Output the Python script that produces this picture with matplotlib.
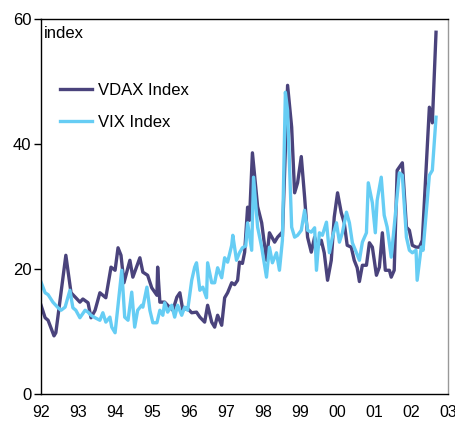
import numpy as np
import matplotlib.pyplot as plt

plt.rcParams['font.family'] = ['Liberation Sans', 'DejaVu Sans']

# years since start of 1992
vdax_t = [0.00, 0.11, 0.19, 0.35, 0.40, 0.67, 0.81, 0.94, 1.05, 1.13, 1.27, 1.35, 1.46, 1.59,
          1.75, 1.89, 2.00, 2.08, 2.16, 2.24, 2.40, 2.48, 2.67, 2.75, 2.88, 2.99, 3.13, 3.15,
          3.21, 3.34, 3.42, 3.56, 3.67, 3.75, 3.83, 3.94, 4.07, 4.20, 4.29, 4.42, 4.50, 4.61,
          4.69, 4.77, 4.88, 4.96, 5.04, 5.15, 5.23, 5.31, 5.36, 5.44, 5.50, 5.58, 5.63, 5.71,
          5.85, 5.96, 6.09, 6.17, 6.31, 6.39, 6.50, 6.52, 6.66, 6.77, 6.85, 6.93, 7.03, 7.12,
          7.20, 7.30, 7.39, 7.47, 7.57, 7.65, 7.74, 7.84, 7.92, 8.01, 8.11, 8.19, 8.27, 8.38,
          8.46, 8.54, 8.60, 8.68, 8.79, 8.87, 8.95, 9.06, 9.14, 9.22, 9.30, 9.41, 9.46, 9.54,
          9.62, 9.76, 9.87, 9.95, 10.03, 10.13, 10.22, 10.30, 10.49, 10.57, 10.67]
vdax = [14.2, 12.2, 11.8, 9.3, 9.8, 22.2, 16.2, 15.4, 14.7, 15.2, 14.6, 12.2, 13.4, 16.2,
        15.4, 20.3, 19.8, 23.4, 22.2, 17.8, 21.4, 18.7, 21.8, 19.5, 19.0, 17.0, 15.8, 20.3,
        14.7, 14.7, 14.2, 13.4, 15.5, 16.2, 13.4, 13.8, 13.0, 13.1, 12.3, 11.5, 14.2, 11.5,
        10.7, 12.6, 11.0, 15.4, 16.2, 17.8, 17.5, 18.2, 21.1, 20.9, 22.7, 29.9, 27.8, 38.6,
        30.0, 27.4, 21.4, 25.8, 24.3, 25.1, 25.8, 25.2, 49.4, 42.7, 32.2, 33.8, 38.0, 31.5,
        25.1, 22.7, 25.1, 23.5, 24.6, 22.6, 18.2, 21.4, 28.3, 32.2, 29.0, 27.4, 23.8, 23.5,
        21.4, 20.2, 18.0, 20.6, 20.6, 24.2, 23.5, 19.0, 20.3, 25.8, 19.8, 19.8, 18.7, 19.8,
        35.8, 37.0, 26.7, 26.2, 23.8, 23.5, 23.5, 24.6, 45.9, 43.4, 57.9]

vix_t = [0.00, 0.11, 0.19, 0.32, 0.46, 0.54, 0.65, 0.78, 0.86, 0.94, 1.05, 1.19, 1.27, 1.35,
         1.46, 1.59, 1.67, 1.75, 1.86, 1.91, 2.00, 2.08, 2.18, 2.26, 2.35, 2.45, 2.53, 2.61,
         2.72, 2.75, 2.86, 2.94, 3.02, 3.13, 3.21, 3.29, 3.34, 3.42, 3.53, 3.61, 3.69, 3.80,
         3.88, 3.96, 4.07, 4.15, 4.20, 4.29, 4.37, 4.47, 4.50, 4.61, 4.69, 4.77, 4.88, 4.96,
         5.04, 5.15, 5.18, 5.28, 5.36, 5.44, 5.53, 5.58, 5.69, 5.74, 5.85, 5.96, 6.09, 6.17,
         6.25, 6.36, 6.44, 6.52, 6.60, 6.66, 6.77, 6.85, 6.93, 7.03, 7.12, 7.20, 7.30, 7.39,
         7.44, 7.52, 7.60, 7.71, 7.79, 7.87, 7.98, 8.06, 8.14, 8.25, 8.33, 8.41, 8.52, 8.60,
         8.68, 8.79, 8.84, 8.95, 9.03, 9.08, 9.19, 9.27, 9.35, 9.46, 9.59, 9.68, 9.76, 9.87,
         9.95, 10.03, 10.13, 10.16, 10.27, 10.32, 10.49, 10.57, 10.67]
vix = [17.9, 16.2, 15.9, 14.7, 13.8, 13.4, 13.9, 16.6, 13.8, 13.4, 12.2, 13.4, 13.1, 12.6,
       12.2, 11.8, 13.0, 11.5, 12.3, 10.7, 9.8, 14.2, 19.8, 12.3, 11.8, 16.3, 10.7, 13.4,
       14.2, 13.9, 17.1, 13.4, 11.4, 11.4, 13.4, 12.6, 14.6, 13.1, 14.2, 12.3, 14.2, 12.6,
       13.9, 13.4, 18.2, 20.3, 21.0, 16.6, 17.1, 15.4, 21.0, 17.8, 17.8, 20.2, 18.6, 21.8,
       21.1, 23.8, 25.4, 21.4, 22.6, 23.4, 23.7, 27.4, 23.0, 34.7, 26.7, 23.5, 18.7, 23.5,
       21.0, 22.6, 19.8, 24.6, 48.3, 45.4, 26.7, 25.1, 25.4, 26.2, 29.4, 26.2, 25.9, 26.6,
       19.8, 25.8, 25.4, 27.5, 22.6, 25.1, 27.4, 24.3, 25.8, 29.1, 27.4, 24.2, 22.6, 21.4,
       24.3, 25.8, 33.8, 30.6, 25.8, 31.0, 34.7, 28.6, 26.7, 21.9, 29.9, 35.4, 35.0, 25.1,
       23.0, 22.6, 23.0, 18.2, 23.5, 23.0, 35.0, 35.8, 44.3]

start_year = 1992
years = list(range(1992, 2004))
year_labels = [str(y)[2:] for y in years]

fig = plt.figure(figsize=(4.56, 4.25), dpi=100)
ax = fig.add_axes([0.09, 0.073, 0.893, 0.882])

ax.plot(start_year + np.array(vdax_t), vdax, color='#4a437c', lw=2.4, label='VDAX Index')
ax.plot(start_year + np.array(vix_t), vix, color='#66cdf4', lw=2.4, label='VIX Index')

ax.set_xlim(1992, 2003)
ax.set_ylim(0, 60)
ax.set_yticks([0, 20, 40, 60])
ax.set_xticks(years)
ax.set_xticklabels(year_labels)
ax.tick_params(axis='y', length=5, width=1, labelsize=12, pad=2)
ax.tick_params(axis='x', length=0, labelsize=11.5, pad=8)

for s in ['left', 'bottom', 'top']:
    ax.spines[s].set_color('black')
    ax.spines[s].set_linewidth(1)
ax.spines['right'].set_color('#999999')
ax.spines['right'].set_linewidth(1)

ax.text(0.006, 0.982, 'index', transform=ax.transAxes, ha='left', va='top', fontsize=12)
ax.legend(loc='upper left', bbox_to_anchor=(0.01, 0.87), frameon=False, fontsize=12,
          handlelength=1.9, handletextpad=0.4, labelspacing=1.0)

fig.savefig('out.png', dpi=100)
